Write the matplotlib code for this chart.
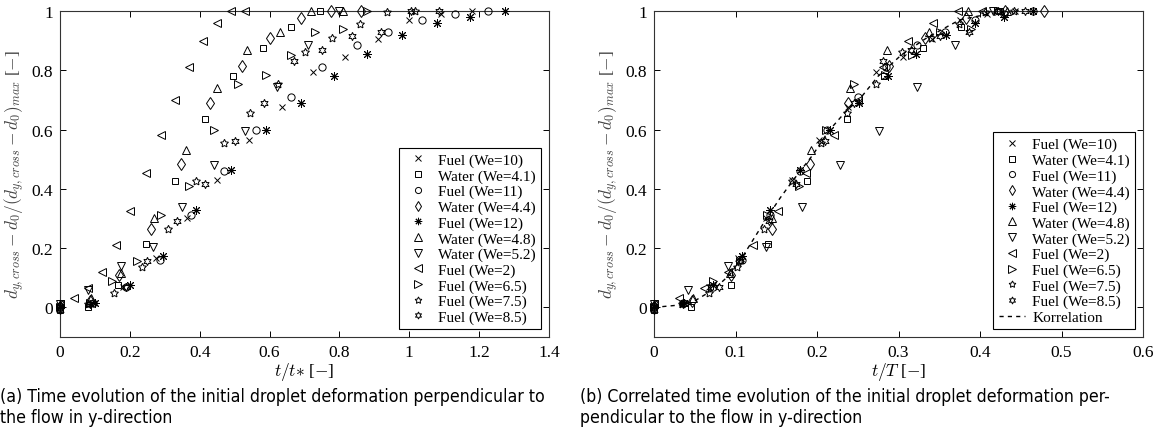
import matplotlib
matplotlib.use("Agg")
import matplotlib.pyplot as plt
from matplotlib.ticker import FuncFormatter
import numpy as np

plt.rcParams['mathtext.fontset'] = 'cm'
plt.rcParams['font.family'] = ['Liberation Serif', 'DejaVu Serif']

# ---- data: t/t* (left) and y = normalised deformation ----
labels = ["Fuel (We=10)", "Water (We=4.1)", "Fuel (We=11)", "Water (We=4.4)",
          "Fuel (We=12)", "Water (We=4.8)", "Water (We=5.2)", "Fuel (We=2)",
          "Fuel (We=6.5)", "Fuel (We=7.5)", "Fuel (We=8.5)"]

fuel10_x = [0, 0.09, 0.18, 0.275, 0.365, 0.45, 0.54, 0.635, 0.725, 0.815, 0.91, 1.0, 1.09, 1.18]
fuel10_y = [0, 0.01, 0.07, 0.165, 0.30, 0.43, 0.565, 0.675, 0.795, 0.845, 0.905, 0.97, 0.99, 1.0]
water41_x = [0, 0.08, 0.165, 0.245, 0.33, 0.415, 0.495, 0.58, 0.66, 0.745]
water41_y = [-0.01, 0.0, 0.075, 0.215, 0.425, 0.635, 0.78, 0.875, 0.945, 1.0]
fuel11_x = [0, 0.095, 0.19, 0.285, 0.375, 0.47, 0.56, 0.66, 0.75, 0.85, 0.94, 1.035, 1.13, 1.225]
fuel11_y = [0, 0.015, 0.07, 0.16, 0.31, 0.46, 0.60, 0.71, 0.81, 0.885, 0.93, 0.97, 0.99, 1.0]
water44_x = [0, 0.085, 0.17, 0.26, 0.345, 0.43, 0.52, 0.60, 0.69, 0.775, 0.863]
water44_y = [0, 0.02, 0.11, 0.265, 0.485, 0.69, 0.815, 0.91, 0.975, 1.0, 1.0]
fuel12_x = [0, 0.1, 0.2, 0.295, 0.39, 0.49, 0.59, 0.69, 0.785, 0.88, 0.98, 1.08, 1.175, 1.275]
fuel12_y = [0, 0.015, 0.075, 0.175, 0.33, 0.465, 0.60, 0.69, 0.78, 0.855, 0.92, 0.96, 0.98, 1.0]
water48_x = [0, 0.09, 0.175, 0.27, 0.36, 0.45, 0.535, 0.63, 0.72, 0.81]
water48_y = [0.01, 0.03, 0.115, 0.30, 0.53, 0.74, 0.87, 0.93, 1.0, 1.0]
water52_x = [0, 0.08, 0.175, 0.265, 0.35, 0.44, 0.53, 0.62, 0.71, 0.80]
water52_y = [0.01, 0.06, 0.14, 0.205, 0.34, 0.48, 0.595, 0.745, 0.885, 1.0]
fuel2_x = [0, 0.04, 0.08, 0.12, 0.16, 0.20, 0.245, 0.29, 0.33, 0.37, 0.41, 0.45, 0.49, 0.53]
fuel2_y = [0.01, 0.03, 0.065, 0.12, 0.21, 0.325, 0.455, 0.58, 0.70, 0.81, 0.90, 0.96, 1.0, 1.0]
fuel65_x = [0, 0.085, 0.15, 0.22, 0.29, 0.37, 0.44, 0.51, 0.59, 0.66, 0.73, 0.81, 0.88]
fuel65_y = [0, 0.015, 0.09, 0.155, 0.31, 0.41, 0.60, 0.755, 0.785, 0.85, 0.93, 0.94, 1.0]
fuel75_x = [0, 0.08, 0.155, 0.235, 0.31, 0.39, 0.47, 0.545, 0.625, 0.70, 0.78, 0.86, 0.935, 1.015]
fuel75_y = [0, 0.01, 0.05, 0.135, 0.265, 0.425, 0.555, 0.655, 0.755, 0.86, 0.91, 0.955, 0.995, 1.0]
fuel85_x = [0, 0.085, 0.19, 0.25, 0.335, 0.415, 0.50, 0.585, 0.67, 0.75, 0.835, 0.92, 1.006, 1.085]
fuel85_y = [-0.01, 0.01, 0.07, 0.155, 0.29, 0.415, 0.56, 0.69, 0.83, 0.87, 0.915, 0.93, 1.0, 1.0]

# t*/T ratio per series
t_ratio = [0.375, 0.57, 0.38, 0.555, 0.365, 0.535, 0.52, 0.76, 0.48, 0.435, 0.42]

# correlation curve (right panel)
korr_x = [0, 0.032, 0.05, 0.073, 0.093, 0.11, 0.138, 0.155, 0.171, 0.195, 0.214, 0.235,
          0.253, 0.275, 0.304, 0.335, 0.375, 0.416, 0.45, 0.5]
korr_y = [0, 0.008, 0.022, 0.06, 0.11, 0.177, 0.30, 0.37, 0.43, 0.515, 0.594, 0.66,
          0.705, 0.78, 0.853, 0.91, 0.97, 0.993, 1.0, 1.0]

series_x = [fuel10_x, water41_x, fuel11_x, water44_x, fuel12_x, water48_x, water52_x,
            fuel2_x, fuel65_x, fuel75_x, fuel85_x]
series_y = [fuel10_y, water41_y, fuel11_y, water44_y, fuel12_y, water48_y, water52_y,
            fuel2_y, fuel65_y, fuel75_y, fuel85_y]

markers = ['x', 's', 'o', 'd', (8, 2, 0), '^', 'v', '<', '>', (5, 1, 0), (6, 1, 0)]
msizes = [5, 4.5, 5.2, 6.5, 6.2, 6.2, 6.2, 6.2, 6.2, 6, 6]

SERIF = ['Liberation Serif', 'DejaVu Serif']

fig = plt.figure(figsize=(11.53, 4.35), dpi=100)
axL = fig.add_axes([60/1153, 1-338/435, 489/1153, 326/435])
axR = fig.add_axes([654/1153, 1-338/435, 489/1153, 326/435])

ylab = r'$d_{y,cross}-d_0/(d_{y,cross}-d_0)_{max}$ [$-$]'
fmt = FuncFormatter(lambda v, p: ('%g' % round(v, 6)))

for ax in (axL, axR):
    for i in range(len(labels)):
        xs = np.array(series_x[i]) * (1.0 if ax is axL else t_ratio[i])
        ax.plot(xs, series_y[i], linestyle='none', marker=markers[i], markersize=msizes[i],
                mfc='none', mec='black', mew=0.7, color='black', label=labels[i],
                clip_on=False, zorder=3)
    ax.set_ylim(-0.1, 1.0)
    ax.set_yticks([0, 0.2, 0.4, 0.6, 0.8, 1.0])
    ax.yaxis.set_major_formatter(fmt)
    ax.xaxis.set_major_formatter(fmt)
    ax.tick_params(direction='in', top=True, right=True, length=4, width=0.7,
                   labelsize=12.5, colors='black', pad=5, labelfontfamily='Liberation Serif')
    for s in ax.spines.values():
        s.set_linewidth(0.8)
        s.set_color('#333333')
    ax.set_ylabel(ylab, fontsize=12.5, color='#444444', labelpad=3, family=SERIF)

axR.plot(korr_x, korr_y, linestyle=(0, (3, 3)), color='black', lw=1.0,
         label='Korrelation', zorder=2)

axL.set_xlim(0, 1.4)
axL.set_xticks([0, 0.2, 0.4, 0.6, 0.8, 1.0, 1.2, 1.4])
axL.set_xlabel(r'$t/t{*}$ [$-$]', fontsize=12.5, labelpad=0, family=SERIF)
axR.set_xlim(0, 0.6)
axR.set_xticks([0, 0.1, 0.2, 0.3, 0.4, 0.5, 0.6])
axR.set_xlabel(r'$t/T$ [$-$]', fontsize=12.5, labelpad=0, family=SERIF)

for ax in (axL, axR):
    leg = ax.legend(loc='lower right', prop={'family': SERIF, 'size': 11}, frameon=True,
                    fancybox=False, edgecolor='black', framealpha=1, borderpad=0.35,
                    labelspacing=0.12, handlelength=1.7, handletextpad=0.5,
                    borderaxespad=0.5, markerscale=0.85)
    leg.get_frame().set_linewidth(0.8)

# captions: condensed sans, size fitted to the reference line width
capkw = dict(family='DejaVu Sans', stretch='condensed', va='center', ha='left')
cap_a1 = "(a) Time evolution of the initial droplet deformation perpendicular to"
cap_a2 = "the flow in y-direction"
cap_b1 = "(b) Correlated time evolution of the initial droplet deformation per-"
cap_b2 = "pendicular to the flow in y-direction"
probe = fig.text(0, 0, cap_a1, fontsize=11, **capkw)
renderer = fig.canvas.get_renderer()
w = probe.get_window_extent(renderer).width
probe.remove()
capsize = 11 * 546.0 / w
fig.text(0/1153, 1-397/435, cap_a1, fontsize=capsize, **capkw)
fig.text(0/1153, 1-418/435, cap_a2, fontsize=capsize, **capkw)
fig.text(580/1153, 1-397/435, cap_b1, fontsize=capsize, **capkw)
fig.text(580/1153, 1-418/435, cap_b2, fontsize=capsize, **capkw)

fig.savefig('out.png', dpi=100)
